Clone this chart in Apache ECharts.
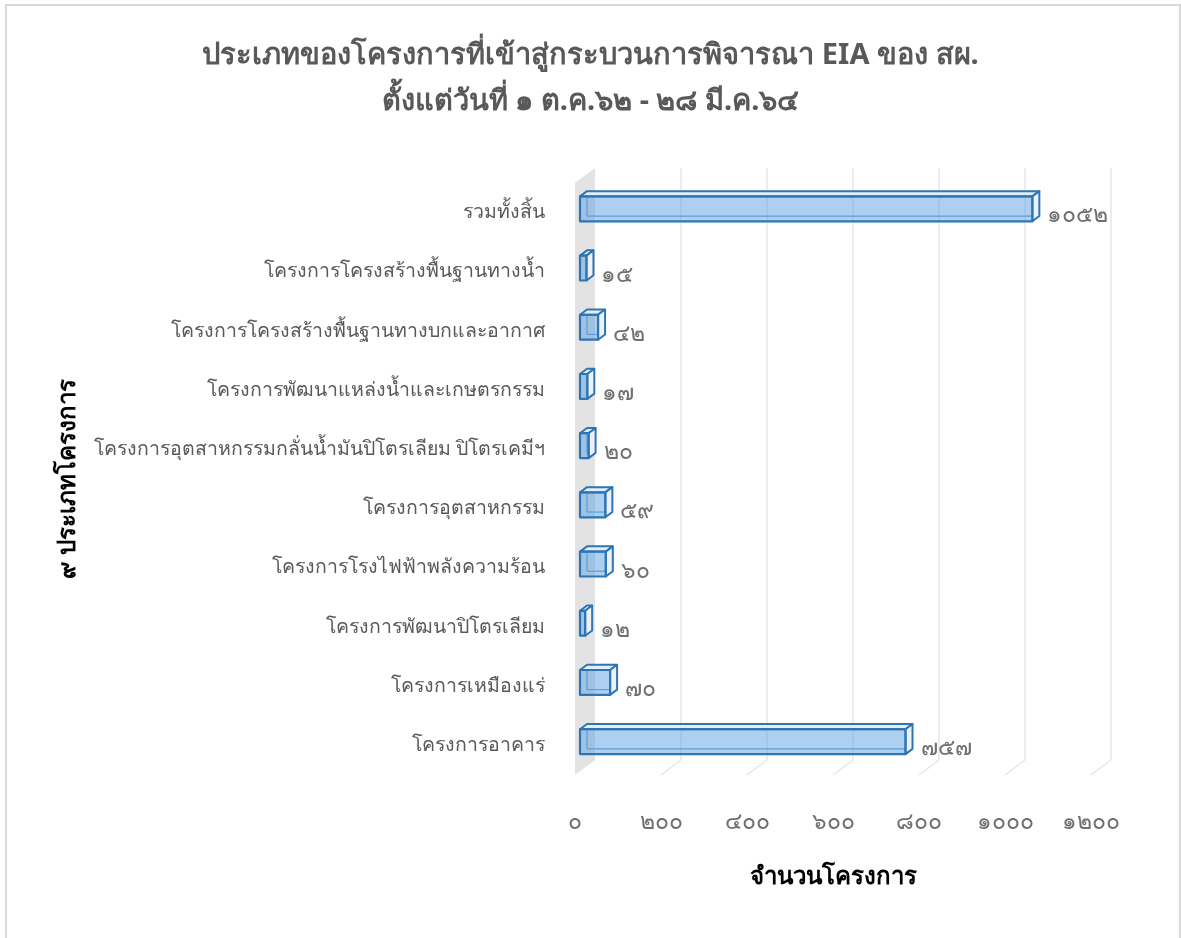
<!DOCTYPE html>
<html><head><meta charset="utf-8">
<script src="https://cdn.jsdelivr.net/npm/echarts@6/dist/echarts.min.js"></script>
<style>html,body{margin:0;padding:0;background:#fff}#c{width:1181px;height:938px}</style>
</head><body><div id="c"></div>
<script>
const categories = ['รวมทั้งสิ้น','โครงการโครงสร้างพื้นฐานทางน้ำ','โครงการโครงสร้างพื้นฐานทางบกและอากาศ','โครงการพัฒนาแหล่งน้ำและเกษตรกรรม','โครงการอุตสาหกรรมกลั่นน้ำมันปิโตรเลียม ปิโตรเคมีฯ','โครงการอุตสาหกรรม','โครงการโรงไฟฟ้าพลังความร้อน','โครงการพัฒนาปิโตรเลียม','โครงการเหมืองแร่','โครงการอาคาร'];
const values = [1052,15,42,17,20,59,60,12,70,757];
const tickValues = [0,200,400,600,800,1000,1200];
const tickLabels = ['๐','๒๐๐','๔๐๐','๖๐๐','๘๐๐','๑๐๐๐','๑๒๐๐'];
const titleText = 'ประเภทของโครงการที่เข้าสู่กระบวนการพิจารณา EIA ของ สผ.\nตั้งแต่วันที่ ๑ ต.ค.๖๒ - ๒๘ มี.ค.๖๔';
const xName = 'จำนวนโครงการ';
const yName = '๙ ประเภทโครงการ';

const thaiDigits = '๐๑๒๓๔๕๖๗๘๙';
const toThai = n => String(n).replace(/[0-9]/g, d => thaiDigits[+d]);
const FONT = '"Noto Sans", "DejaVu Sans", sans-serif';
const DX = 20, DY = -15; // floor depth

const chart = echarts.init(document.getElementById('c'));
chart.setOption({
  backgroundColor: '#fff',
  animation: false,
  title: {
    text: titleText, left: 'center', top: 28,
    textStyle: {fontFamily: FONT, fontSize: 29, fontWeight: 'bold', color: '#595959', lineHeight: 46}
  },
  graphic: [{
    type: 'rect', shape: {x: 6, y: 5, width: 1174, height: 940},
    style: {fill: 'none', stroke: '#d9d9d9', lineWidth: 2}, silent: true
  }],
  grid: {left: 575, top: 183, width: 516, height: 592},
  xAxis: {
    type: 'value', min: 0, max: 1200, interval: 200,
    axisLine: {show: false}, axisTick: {show: false}, splitLine: {show: false},
    axisLabel: {margin: 36, fontFamily: FONT, fontSize: 23, color: '#707070',
      formatter: v => tickLabels[tickValues.indexOf(v)]},
    name: xName, nameLocation: 'middle', nameGap: 90,
    nameTextStyle: {fontFamily: FONT, fontSize: 24, fontWeight: 'bold', color: '#000'}
  },
  yAxis: {
    type: 'category', data: categories, inverse: true,
    axisLine: {show: false}, axisTick: {show: false},
    axisLabel: {margin: 30, fontFamily: FONT, fontSize: 19.5, color: '#595959'},
    name: yName, nameLocation: 'middle', nameGap: 495, nameRotate: 90,
    nameTextStyle: {fontFamily: FONT, fontSize: 24, fontWeight: 'bold', color: '#000'}
  },
  series: [
    {
      type: 'custom', silent: true, z: 1,
      data: tickValues.map(v => [v, 0]),
      encode: {x: 0, y: 1},
      renderItem: (params, api) => {
        const cs = params.coordSys;
        const x = api.coord([api.value(0), 0])[0];
        const top = cs.y, bot = cs.y + cs.height;
        if (api.value(0) === 0) {
          return {type: 'polygon', shape: {points: [[x, top], [x + DX, top + DY], [x + DX, bot + DY], [x, bot]]},
            style: {fill: '#e3e3e3', stroke: 'none'}};
        }
        return {type: 'group', children: [
          {type: 'line', shape: {x1: x + DX, y1: top + DY, x2: x + DX, y2: bot + DY}, style: {stroke: '#e6e6e6', lineWidth: 1.5}},
          {type: 'line', shape: {x1: x + DX, y1: bot + DY, x2: x, y2: bot}, style: {stroke: '#e6e6e6', lineWidth: 1.5}}
        ]};
      }
    },
    {
      type: 'custom', silent: true, z: 3,
      data: values.map((v, i) => [v, i]),
      encode: {x: 0, y: 1},
      renderItem: (params, api) => {
        const i = api.value(1), v = api.value(0);
        const p0 = api.coord([0, i]), p1 = api.coord([v, i]);
        const band = api.size([0, 1])[1];
        const h = band * 0.42;
        const fx = 0.25 * DX, fy = 0.25 * DY; // front face depth
        const bx = 0.6 * DX - fx, by = 0.6 * DY - fy; // bar depth
        const x0 = p0[0] + fx, x1 = p1[0] + fx, yc = p0[1] + fy;
        const yt = yc - h / 2, yb = yc + h / 2;
        const edge = '#2e75b6';
        return {type: 'group', children: [
          {type: 'line', shape: {x1: x0 + bx, y1: yt + by, x2: x0 + bx, y2: yb + by}, style: {stroke: '#5b9bd5', lineWidth: 1.2}},
          {type: 'line', shape: {x1: x0 + bx, y1: yb + by, x2: x1 + bx, y2: yb + by}, style: {stroke: '#5b9bd5', lineWidth: 1.2}},
          {type: 'polygon', shape: {points: [[x0, yt], [x1, yt], [x1 + bx, yt + by], [x0 + bx, yt + by]]},
            style: {fill: '#e4eef8', stroke: edge, lineWidth: 2, lineJoin: 'round'}},
          {type: 'polygon', shape: {points: [[x1, yt], [x1 + bx, yt + by], [x1 + bx, yb + by], [x1, yb]]},
            style: {fill: '#eef2f7', stroke: edge, lineWidth: 2, lineJoin: 'round'}},
          {type: 'rect', shape: {x: x0, y: yt, width: x1 - x0, height: h},
            style: {fill: 'rgba(91,160,225,0.5)', stroke: edge, lineWidth: 2.2, lineJoin: 'round'}},
          {type: 'text', style: {text: toThai(v), x: x1 + bx + 8, y: yc + 7, align: 'left', verticalAlign: 'middle',
            font: '23px ' + FONT, fill: '#707070'}}
        ]};
      }
    }
  ]
});
</script></body></html>
